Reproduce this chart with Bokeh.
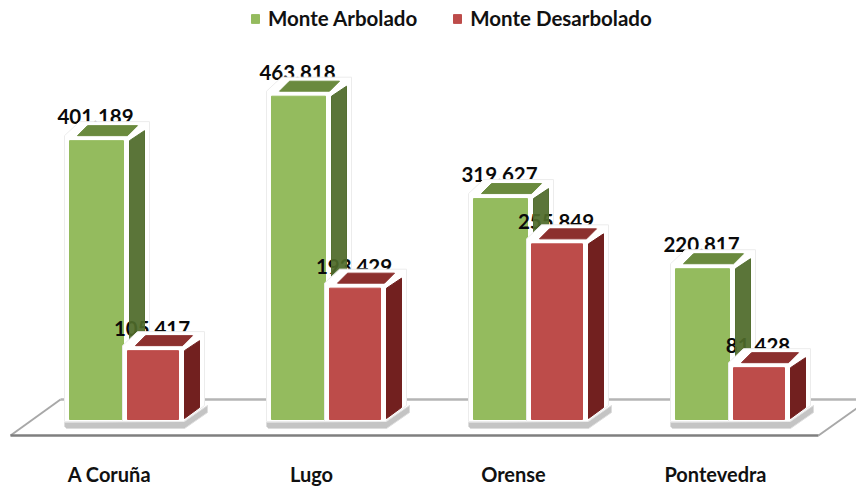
from bokeh.plotting import figure
from bokeh.models import Range1d, FixedTicker, Legend, LegendItem
from bokeh.embed import file_html
from bokeh.resources import INLINE
from bokeh.core.properties import value

categories = ["A Coruña", "Lugo", "Orense", "Pontevedra"]
arbolado = [401189, 463818, 319627, 220817]
desarbolado = [105417, 193429, 255849, 81428]
series_names = ["Monte Arbolado", "Monte Desarbolado"]

FONT = "Lato"
S = 0.00071            # pixels per hectare
ZERO_IMG = 425         # screen row of value 0
FH = 438


def vy(img):           # screen row -> value
    return (ZERO_IMG - img) / S


p = figure(width=856, height=486, frame_width=856, frame_height=FH,
           output_backend="svg", toolbar_location=None,
           x_range=Range1d(0, 856), y_range=Range1d(vy(FH), vy(0)),
           min_border_left=0, min_border_right=0, min_border_top=0, min_border_bottom=48,
           outline_line_color=None, background_fill_color="white")
p.grid.visible = False
p.yaxis.visible = False

g_left = [69 + 202 * i for i in range(4)]
centers = [g + 40 for g in g_left]
p.xaxis.ticker = FixedTicker(ticks=centers)
p.xaxis.major_label_overrides = {c: t for c, t in zip(centers, categories)}
p.xaxis.axis_line_color = None
p.xaxis.major_tick_line_color = None
p.xaxis.minor_tick_line_color = None
p.xaxis.major_tick_out = 0
p.xaxis.major_tick_in = 0
p.xaxis.major_label_standoff = 23
p.xaxis.major_label_text_font = FONT
p.xaxis.major_label_text_font_style = "bold"
p.xaxis.major_label_text_font_size = "20px"
p.xaxis.major_label_text_color = "#111111"

# floor
p.line([60, 856], [vy(399), vy(399)], line_color="#b5b5b5", line_width=2.5)
p.line([10, 60], [vy(435), vy(399)], line_color="#a8a8a8", line_width=2)
p.line([818, 856], [vy(435), vy(408)], line_color="#a8a8a8", line_width=2)
p.line([10, 818], [vy(435), vy(435)], line_color="#7f7f7f", line_width=2.5)

W = [54, 51]
OFF = [0, 58]
u = 1 / S


def labels(vals, w, o, up):
    xs = [g + o + w / 2 - 1 for g in g_left]
    ys = [v + up * u for v in vals]
    ts = [f"{v // 1000}.{v % 1000:03d}" for v in vals]
    p.text(xs, ys, text=ts, text_align="center", text_baseline="alphabetic",
           text_font=value(FONT), text_font_style="bold", text_font_size="20.5px",
           text_color="#0a0a0a")


# plinth under every group
base = vy(421)
sx, sy = [], []
for g in g_left:
    sx.append([g - 5, g - 5, g - 3, g + 115, g + 138, g + 138, g + 115])
    sy.append([vy(422), vy(426), vy(428), vy(428), vy(412), vy(405), vy(421)])
p.patches(sx, sy, fill_color="#c4c4c4", line_color="#dddddd", line_width=1)


def shell(vals, w, o, front):
    hx, hy, fx, fy = [], [], [], []
    for g, v in zip(g_left, vals):
        a = g + o
        b = a + w
        hx.append([a - 5, a - 5, a + 10, b + 26, b + 26, b + 5, a - 5])
        hy.append([base, v + 5 * u, v + 19 * u, v + 19 * u, vy(405), base, base])
        fx.append([a, b, b, a])
        fy.append([base + 2 * u, base + 2 * u, v, v])
    p.patches(hx, hy, fill_color="white", line_color="#ececec", line_width=1)
    return p.patches(fx, fy, fill_color=front, line_color=front)


def depth(vals, w, o, top, side, alpha=1.0):
    tx, ty, dx, dy = [], [], [], []
    for g, v in zip(g_left, vals):
        a = g + o
        b = a + w
        tx.append([a + 8, a + 18, b + 14, b + 4])
        ty.append([v + 5 * u, v + 15 * u, v + 15 * u, v + 5 * u])
        dx.append([b + 6, b + 21, b + 21, b + 6])
        dy.append([v, v + 10 * u, vy(407), vy(418)])
    p.patches(tx, ty, fill_color=top, line_color=top)
    p.patches(dx, dy, fill_color=side, fill_alpha=alpha, line_color=side, line_alpha=alpha)


labels(arbolado, W[0], OFF[0], 24)
r1 = shell(arbolado, W[0], OFF[0], "#94bb5e")
labels(desarbolado, W[1], OFF[1], 22)
depth(arbolado, W[0], OFF[0], "#6a8a3e", "#4f6a2a", 0.93)
r2 = shell(desarbolado, W[1], OFF[1], "#bd4c4a")
depth(desarbolado, W[1], OFF[1], "#8c302e", "#72201f")

legend = Legend(items=[LegendItem(label=series_names[0], renderers=[r1]),
                       LegendItem(label=series_names[1], renderers=[r2])],
                orientation="horizontal", location=(250, FH - 30),
                glyph_width=10, glyph_height=11, label_standoff=8, spacing=35,
                padding=0, margin=0, border_line_color=None, background_fill_alpha=0,
                label_text_font=FONT, label_text_font_style="bold",
                label_text_font_size="20.5px", label_text_color="#111111")
p.add_layout(legend)

open("out.html", "w").write(file_html(p, INLINE))
